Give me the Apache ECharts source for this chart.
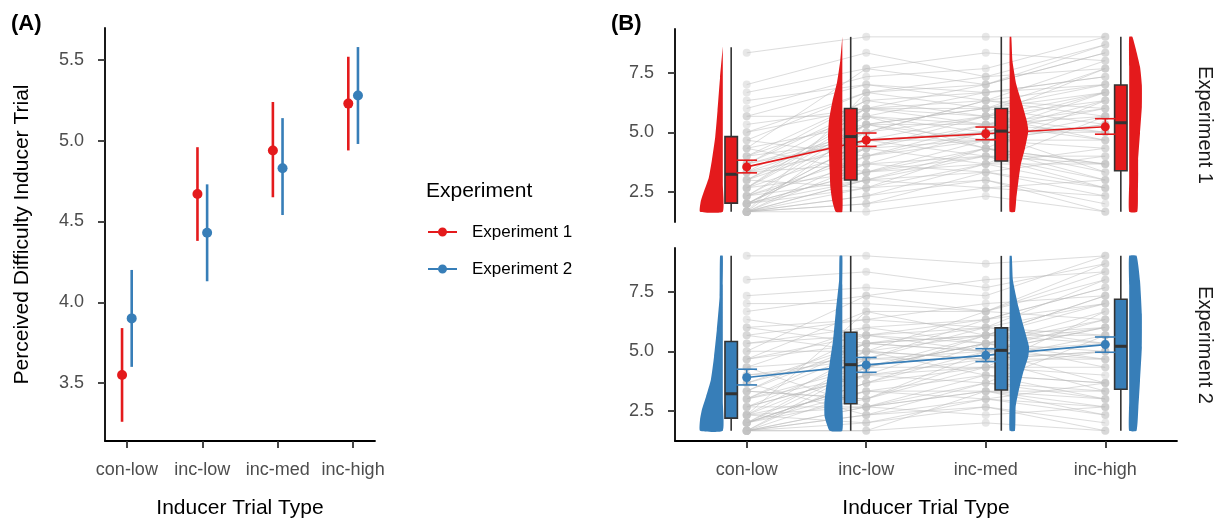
<!DOCTYPE html>
<html lang="en">
<head>
<meta charset="UTF-8">
<script src="https://cdn.jsdelivr.net/npm/echarts@6/dist/echarts.min.js"></script>
<title>Inducer trial difficulty</title>
<style>html,body{margin:0;padding:0;background:#fff}</style>
</head>
<body>
<div id="main" style="width:1215px;height:521px"></div>
<script>
// categories and summary values
var cats = ['con-low', 'inc-low', 'inc-med', 'inc-high'];
var meanExp1 = [3.55, 4.67, 4.94, 5.23];
var meanExp2 = [3.90, 4.43, 4.83, 5.28];
// panel A intervals
var ciA1lo = [3.26, 4.38, 4.65, 4.94];
var ciA1hi = [3.84, 4.96, 5.24, 5.52];
var ciA2lo = [3.60, 4.13, 4.54, 4.98];
var ciA2hi = [4.20, 4.73, 5.14, 5.58];
// panel B error bars
var ciB1lo = [3.30, 4.41, 4.69, 4.92];
var ciB1hi = [3.83, 4.97, 5.22, 5.57];
var ciB2lo = [3.59, 4.12, 4.57, 4.96];
var ciB2hi = [4.25, 4.74, 5.11, 5.60];
// boxplot stats: lower whisker, q1, median, q3, upper whisker
var box1 = [[1.67, 2.03, 3.24, 4.82, 8.56], [1.67, 3.00, 4.82, 6.00, 9], [1.67, 3.80, 5.05, 6.00, 9], [1.67, 3.39, 5.40, 6.98, 9]];
var box2 = [[1.67, 2.20, 3.22, 5.41, 9], [1.67, 2.80, 4.44, 5.80, 9], [1.67, 3.38, 5.04, 5.98, 9], [1.67, 3.41, 5.21, 7.18, 9]];
// half violin density profiles: [value, relative density]
var viol1 = [
  [[1.67, .99], [2.1, .96], [2.5, .83], [3.1, .61], [3.8, .48], [4.8, .33], [5.9, .23], [7.3, .12], [8.6, 0]],
  [[1.67, .29], [2.1, .43], [2.7, .52], [3.4, .55], [4.1, .58], [4.8, .62], [5.5, .58], [6.3, .43], [7.1, .23], [8.0, .09], [9, 0]],
  [[1.67, .23], [2.25, .29], [2.95, .38], [3.64, .48], [4.34, .67], [5.04, .81], [5.46, .75], [6.16, .55], [7.0, .29], [8.0, .12], [9, .07]],
  [[1.67, .35], [2.44, .38], [3.28, .39], [3.84, .39], [4.96, .47], [6.07, .55], [6.98, .55], [7.75, .47], [9, .14]]
];
var viol2 = [
  [[1.67, .99], [2.13, .99], [2.55, .91], [3.1, .73], [3.8, .52], [4.78, .38], [5.9, .26], [7.29, .14], [9, .12]],
  [[1.67, .55], [2.27, .77], [2.82, .78], [3.52, .70], [4.5, .55], [5.48, .40], [6.59, .29], [7.99, .14], [9, .12]],
  [[1.67, .23], [2.69, .26], [3.38, .40], [4.08, .58], [4.78, .81], [5.2, .84], [6.03, .61], [6.87, .38], [7.99, .14], [9, .09]],
  [[1.67, .32], [2.66, .40], [3.77, .47], [5.17, .55], [6.56, .55], [7.96, .47], [9, .32]]
];
// individual participants (con-low, inc-low, inc-med, inc-high)
var subj1 = [
  [1.67, 2.33, 3.67, 2.67], [1.67, 3.00, 4.33, 3.33], [2.00, 4.67, 5.00, 6.33], [2.00, 2.67, 3.00, 2.00],
  [1.67, 5.33, 6.00, 7.67], [2.33, 4.00, 4.67, 5.33], [3.00, 5.67, 5.33, 6.67], [2.67, 3.33, 4.00, 3.67],
  [4.00, 6.33, 6.67, 7.33], [3.33, 4.33, 5.33, 4.67], [5.00, 6.00, 7.00, 8.33], [1.67, 1.67, 2.33, 1.67],
  [2.00, 4.33, 3.67, 5.67], [4.67, 6.67, 6.00, 7.00], [3.67, 5.00, 5.67, 5.00], [6.00, 7.33, 7.67, 9.00],
  [2.33, 3.00, 4.00, 3.00], [3.00, 4.67, 5.00, 6.00], [5.33, 6.00, 6.33, 5.67], [1.67, 2.00, 2.67, 2.33],
  [4.33, 5.33, 4.67, 4.33], [7.00, 8.33, 7.33, 8.67], [2.67, 5.67, 4.33, 6.33], [3.33, 3.67, 5.00, 3.33],
  [8.33, 9.00, 9.00, 9.00], [2.00, 3.00, 3.33, 4.00], [3.67, 6.33, 5.67, 7.67], [4.67, 4.00, 5.33, 5.00],
  [1.67, 3.67, 4.00, 2.67], [6.67, 7.67, 8.33, 8.00], [2.33, 5.00, 6.33, 6.00], [3.00, 2.67, 3.67, 3.67],
  [5.67, 7.00, 6.67, 7.33], [2.00, 4.33, 4.67, 5.33], [4.00, 4.67, 5.67, 4.67], [1.67, 2.33, 3.00, 1.67],
  [3.67, 6.00, 6.00, 6.67], [2.67, 5.33, 5.33, 5.67], [4.33, 3.33, 4.33, 3.00], [1.67, 6.67, 7.00, 8.33],
  [2.00, 3.33, 3.67, 4.33], [1.67, 4.00, 5.00, 5.00], [2.67, 6.00, 5.67, 6.33], [3.33, 5.00, 6.33, 7.00],
  [1.67, 2.67, 4.33, 3.67], [4.00, 5.67, 5.00, 6.67], [2.33, 3.67, 3.33, 2.33], [5.00, 6.67, 7.33, 7.67],
  [2.00, 4.67, 4.00, 4.00], [3.00, 5.33, 6.00, 5.33], [1.67, 3.00, 2.67, 3.00], [6.33, 7.00, 6.33, 8.00],
  [2.67, 4.33, 5.67, 6.67], [3.67, 4.67, 4.67, 5.67], [1.67, 2.00, 3.33, 2.67], [4.33, 7.67, 7.00, 8.67],
  [2.33, 5.33, 4.33, 3.67], [3.33, 6.00, 5.33, 6.00], [5.67, 5.67, 6.67, 7.00], [2.00, 3.33, 4.67, 4.67]
];
var subj2 = [
  [1.67, 2.67, 3.33, 2.33], [2.00, 3.33, 4.00, 3.67], [1.67, 4.33, 5.33, 6.00], [2.33, 2.00, 3.00, 2.67],
  [3.00, 5.33, 5.67, 7.33], [2.67, 4.00, 4.33, 5.00], [5.33, 5.67, 6.33, 7.67], [3.33, 3.00, 4.67, 3.33],
  [6.00, 6.33, 6.00, 8.00], [2.00, 4.67, 5.00, 5.33], [5.67, 5.00, 6.67, 6.33], [1.67, 1.67, 2.00, 1.67],
  [3.00, 4.00, 3.67, 5.67], [4.67, 6.67, 5.67, 7.00], [2.33, 4.33, 5.33, 4.33], [7.33, 7.67, 7.33, 9.00],
  [2.67, 2.67, 3.33, 3.00], [3.67, 5.33, 5.00, 6.00], [6.33, 5.67, 6.00, 5.33], [1.67, 2.33, 2.67, 2.00],
  [4.33, 4.67, 4.67, 4.67], [8.00, 8.33, 7.67, 8.67], [2.00, 3.67, 4.33, 6.67], [3.33, 3.00, 5.00, 3.67],
  [9.00, 9.00, 8.67, 9.00], [2.33, 2.67, 3.67, 3.33], [5.00, 5.00, 5.67, 7.33], [3.00, 4.33, 5.33, 5.00],
  [1.67, 3.33, 3.33, 2.67], [6.67, 7.33, 8.00, 8.33], [2.67, 4.67, 6.00, 5.67], [3.67, 2.33, 3.00, 3.67],
  [5.33, 6.00, 6.33, 7.67], [2.00, 3.67, 5.00, 4.67], [4.00, 4.33, 5.67, 5.33], [1.67, 2.00, 2.67, 1.67],
  [4.67, 5.67, 5.00, 6.33], [3.00, 5.00, 4.67, 5.00], [4.33, 2.67, 4.00, 3.00], [2.33, 6.67, 6.67, 8.00],
  [2.00, 3.00, 4.33, 4.00], [1.67, 4.00, 4.67, 5.67], [3.33, 5.67, 5.33, 6.67], [4.00, 4.67, 6.33, 7.00],
  [1.67, 2.33, 3.67, 3.00], [4.67, 5.33, 5.00, 6.00], [2.33, 3.33, 3.00, 2.33], [5.67, 6.33, 7.00, 7.33],
  [2.00, 4.33, 4.33, 4.33], [3.33, 5.33, 5.67, 5.67], [1.67, 2.67, 2.33, 2.67], [7.00, 7.00, 6.67, 8.33],
  [2.67, 4.00, 5.67, 6.00], [3.67, 5.00, 4.67, 5.00], [1.67, 1.67, 3.33, 3.33], [5.00, 7.33, 6.67, 8.67],
  [2.33, 5.00, 4.00, 3.67], [4.33, 6.00, 5.33, 6.33], [6.00, 5.33, 6.00, 7.00], [2.00, 3.67, 5.33, 4.67]
];

var RED = '#E41A1C', BLUE = '#377EB8';
var FONT = '"Liberation Sans", Arial, sans-serif';
var sides = [-1, -1, 1, 1];   // which side the box / violin sits on
var dodge = 0.064;            // panel A dodge
var boxOff = 0.13, boxHalf = 0.052, violOff = 0.2, violScale = 0.1925, capHalf = 0.0865;

var chart = echarts.init(document.getElementById('main'));

function catFmt(v) { return cats[Math.round(v)] || ''; }

function xAxisOf(gridIndex, min, max, showIt, name) {
  return {
    type: 'value', gridIndex: gridIndex, min: min, max: max, show: showIt,
    name: name, nameLocation: 'middle', nameGap: 57,
    nameTextStyle: { fontSize: 21, color: '#000', fontFamily: FONT },
    axisLine: { show: true, onZero: false, lineStyle: { color: '#000', width: 1.8 } },
    axisTick: { show: true, customValues: [0, 1, 2, 3], length: 7, lineStyle: { color: '#333', width: 1.8 } },
    axisLabel: { customValues: [0, 1, 2, 3], formatter: catFmt, fontSize: 18, color: '#4d4d4d', margin: 20, fontFamily: FONT },
    splitLine: { show: false }
  };
}
function yAxisOf(gridIndex, min, max, ticks, name) {
  return {
    type: 'value', gridIndex: gridIndex, min: min, max: max,
    name: name, nameLocation: 'middle', nameGap: 72,
    nameTextStyle: { fontSize: 21, color: '#000', fontFamily: FONT },
    axisLine: { show: true, onZero: false, lineStyle: { color: '#000', width: 1.8 } },
    axisTick: { show: true, customValues: ticks, length: 7, lineStyle: { color: '#333', width: 1.8 } },
    axisLabel: { customValues: ticks, formatter: function (v) { return v.toFixed(1); }, fontSize: 18, color: '#4d4d4d', margin: 21, fontFamily: FONT },
    splitLine: { show: false }
  };
}

// panel A: point + vertical range
function rangeSeries(means, lo, hi, off, color, name) {
  return [{
    type: 'custom', xAxisIndex: 0, yAxisIndex: 0, z: 2,
    data: means.map(function (m, i) { return [i + off, lo[i], hi[i]]; }),
    renderItem: function (params, api) {
      var a = api.coord([api.value(0), api.value(1)]);
      var b = api.coord([api.value(0), api.value(2)]);
      return { type: 'line', shape: { x1: a[0], y1: a[1], x2: b[0], y2: b[1] }, style: { stroke: color, lineWidth: 2.6 } };
    }
  }, {
    type: 'scatter', name: name, xAxisIndex: 0, yAxisIndex: 0, z: 3,
    symbolSize: 10, itemStyle: { color: color, opacity: 1 },
    data: means.map(function (m, i) { return [i + off, m]; })
  }];
}

// panel B pieces
function subjSeries(rows, ax) {
  return {
    type: 'custom', xAxisIndex: ax, yAxisIndex: ax, z: 1, silent: true,
    data: rows,
    renderItem: function (params, api) {
      var pts = [];
      for (var k = 0; k < 4; k++) pts.push(api.coord([k, api.value(k)]));
      var kids = [{ type: 'polyline', shape: { points: pts }, style: { stroke: 'rgba(185,185,185,0.5)', lineWidth: 1, fill: 'none' } }];
      pts.forEach(function (p) {
        kids.push({ type: 'circle', shape: { cx: p[0], cy: p[1], r: 4 }, style: { fill: 'rgba(195,195,195,0.4)' } });
      });
      return { type: 'group', children: kids };
    }
  };
}
function violinSeries(profiles, ax, color) {
  return {
    type: 'custom', xAxisIndex: ax, yAxisIndex: ax, z: 3, silent: true,
    data: profiles.map(function (p, i) { return [i, p[0][0]]; }),
    renderItem: function (params, api) {
      var i = params.dataIndex, s = sides[i], prof = profiles[i];
      var base = i + s * violOff, lo = prof[0][0], hi = prof[prof.length - 1][0];
      var pts = [];
      prof.forEach(function (p) { pts.push(api.coord([base + s * p[1] * violScale, p[0]])); });
      // flat side, top to bottom
      for (var t = 0; t <= 6; t++) pts.push(api.coord([base, hi - (hi - lo) * t / 6]));
      return { type: 'polygon', shape: { points: pts, smooth: 0.15 }, style: { fill: color } };
    }
  };
}
function boxSeries(stats, ax, color) {
  return {
    type: 'custom', xAxisIndex: ax, yAxisIndex: ax, z: 4, silent: true,
    data: stats.map(function (b, i) { return [i].concat(b); }),
    renderItem: function (params, api) {
      var i = params.dataIndex, x = i + sides[i] * boxOff;
      var w1 = api.coord([x, api.value(1)]), w2 = api.coord([x, api.value(5)]);
      var p1 = api.coord([x - boxHalf, api.value(4)]), p2 = api.coord([x + boxHalf, api.value(2)]);
      var m1 = api.coord([x - boxHalf, api.value(3)]), m2 = api.coord([x + boxHalf, api.value(3)]);
      return { type: 'group', children: [
        { type: 'line', shape: { x1: w1[0], y1: w1[1], x2: w2[0], y2: w2[1] }, style: { stroke: '#333', lineWidth: 1.6 } },
        { type: 'rect', shape: { x: p1[0], y: p1[1], width: p2[0] - p1[0], height: p2[1] - p1[1] }, style: { fill: color, stroke: '#333', lineWidth: 1.6 } },
        { type: 'line', shape: { x1: m1[0], y1: m1[1], x2: m2[0], y2: m2[1] }, style: { stroke: '#333', lineWidth: 3 } }
      ] };
    }
  };
}
function meanSeries(means, lo, hi, ax, color) {
  var pts = means.map(function (m, i) { return [i, m]; });
  return [{
    type: 'line', xAxisIndex: ax, yAxisIndex: ax, z: 2, silent: true,
    data: pts, symbol: 'none', lineStyle: { color: color, width: 1.6 }
  }, {
    type: 'custom', xAxisIndex: ax, yAxisIndex: ax, z: 5, silent: true,
    data: means.map(function (m, i) { return [i, lo[i], hi[i]]; }),
    renderItem: function (params, api) {
      var x = api.value(0);
      var a = api.coord([x, api.value(1)]), b = api.coord([x, api.value(2)]);
      var al = api.coord([x - capHalf, api.value(1)]), ar = api.coord([x + capHalf, api.value(1)]);
      var bl = api.coord([x - capHalf, api.value(2)]), br = api.coord([x + capHalf, api.value(2)]);
      var st = { stroke: color, lineWidth: 1.6 };
      return { type: 'group', children: [
        { type: 'line', shape: { x1: a[0], y1: a[1], x2: b[0], y2: b[1] }, style: st },
        { type: 'line', shape: { x1: al[0], y1: al[1], x2: ar[0], y2: ar[1] }, style: st },
        { type: 'line', shape: { x1: bl[0], y1: bl[1], x2: br[0], y2: br[1] }, style: st }
      ] };
    }
  }, {
    type: 'scatter', xAxisIndex: ax, yAxisIndex: ax, z: 6, silent: true,
    symbolSize: 9, itemStyle: { color: color, opacity: 1 }, data: pts
  }];
}

var legendIcon = 'path://M0,4h10.1v2h-10.1z M18.9,4h10.1v2h-10.1z M10,5a4.5,4.5 0 1,0 9,0a4.5,4.5 0 1,0 -9,0z M38.9,4.9h0.1v0.1h-0.1z';

var series = []
  .concat(rangeSeries(meanExp1, ciA1lo, ciA1hi, -dodge, RED, 'Experiment 1'))
  .concat(rangeSeries(meanExp2, ciA2lo, ciA2hi, dodge, BLUE, 'Experiment 2'))
  .concat([subjSeries(subj1, 1), violinSeries(viol1, 1, RED), boxSeries(box1, 1, RED)])
  .concat(meanSeries(meanExp1, ciB1lo, ciB1hi, 1, RED))
  .concat([subjSeries(subj2, 2), violinSeries(viol2, 2, BLUE), boxSeries(box2, 2, BLUE)])
  .concat(meanSeries(meanExp2, ciB2lo, ciB2hi, 2, BLUE));

var option = {
  animation: false,
  textStyle: { fontFamily: FONT },
  grid: [
    { left: 105, top: 28, width: 270, height: 413, outerBoundsMode: 'none', containLabel: false },
    { left: 675, top: 29, width: 502, height: 193, outerBoundsMode: 'none', containLabel: false },
    { left: 675, top: 248, width: 502, height: 193, outerBoundsMode: 'none', containLabel: false }
  ],
  xAxis: [
    xAxisOf(0, -0.29, 3.29, true, 'Inducer Trial Type'),
    xAxisOf(1, -0.6, 3.6, false, ''),
    xAxisOf(2, -0.6, 3.6, true, 'Inducer Trial Type')
  ],
  yAxis: [
    yAxisOf(0, 3.141, 5.698, [3.5, 4, 4.5, 5, 5.5], 'Perceived Difficulty Inducer Trial'),
    yAxisOf(1, 1.24, 9.33, [2.5, 5, 7.5], ''),
    yAxisOf(2, 1.24, 9.33, [2.5, 5, 7.5], '')
  ],
  legend: {
    orient: 'vertical', left: 428, top: 222, padding: 0,
    itemWidth: 39, itemHeight: 9, itemGap: 17, selectedMode: false,
    textStyle: { fontSize: 17, color: '#000', fontFamily: FONT, lineHeight: 20 },
    data: [
      { name: 'Experiment 1', icon: legendIcon, itemStyle: { color: RED } },
      { name: 'Experiment 2', icon: legendIcon, itemStyle: { color: BLUE } }
    ]
  },
  graphic: [
    { type: 'text', left: 11, top: 13, style: { text: '(A)', fontSize: 22, fontWeight: 'bold', fill: '#000', fontFamily: FONT } },
    { type: 'text', left: 611, top: 13, style: { text: '(B)', fontSize: 22, fontWeight: 'bold', fill: '#000', fontFamily: FONT } },
    { type: 'text', left: 426, top: 181, style: { text: 'Experiment', fontSize: 21, fill: '#000', fontFamily: FONT } },
    { type: 'text', x: 1205, y: 125, rotation: -Math.PI / 2,
      style: { text: 'Experiment 1', fontSize: 20, fill: '#1a1a1a', fontFamily: FONT, align: 'center', verticalAlign: 'middle', textAlign: 'center', textVerticalAlign: 'middle' } },
    { type: 'text', x: 1205, y: 345, rotation: -Math.PI / 2,
      style: { text: 'Experiment 2', fontSize: 20, fill: '#1a1a1a', fontFamily: FONT, align: 'center', verticalAlign: 'middle', textAlign: 'center', textVerticalAlign: 'middle' } }
  ],
  series: series
};

chart.setOption(option);
</script>
</body>
</html>
